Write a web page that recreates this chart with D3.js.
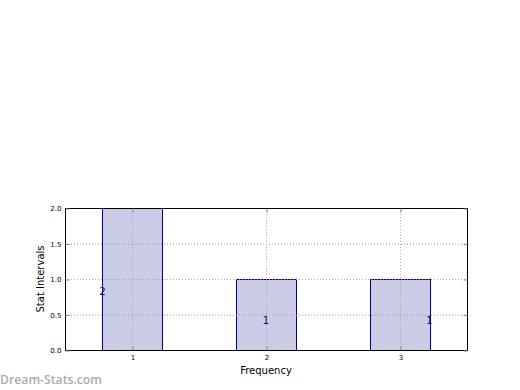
<!DOCTYPE html>
<html><head><meta charset="utf-8">
<script src="https://cdn.jsdelivr.net/npm/d3@7"></script>
<style>body{margin:0;background:#fff;}svg{display:block;font-family:"DejaVu Sans",sans-serif;}</style>
</head><body>
<svg id="c" width="520" height="390"></svg>
<script>
const categories = [1, 2, 3];
const values = [2, 1, 1];
const valueLabels = ["2", "1", "1"];
const labelX = [0.78, 2.0, 3.22];
const labelY = [0.82, 0.42, 0.42];
const yTicks = [0, 0.5, 1.0, 1.5, 2.0];
const xTicks = [1, 2, 3];

const svg = d3.select("#c");
const m = {left: 65, right: 467, top: 208, bottom: 350};
const x = d3.scaleLinear().domain([0.5, 3.5]).range([m.left, m.right]);
const y = d3.scaleLinear().domain([0, 2]).range([m.bottom, m.top]);
const barW = 0.45;

// grid
const g = svg.append("g");
g.selectAll(".hg").data(yTicks).join("line")
  .attr("x1", m.left).attr("x2", m.right)
  .attr("y1", d => y(d) + 0.5).attr("y2", d => y(d) + 0.5)
  .attr("stroke", "#bbb").attr("stroke-dasharray", "1,2");
g.selectAll(".vg").data(xTicks).join("line")
  .attr("x1", d => Math.round(x(d)) + 0.5).attr("x2", d => Math.round(x(d)) + 0.5)
  .attr("y1", m.top).attr("y2", m.bottom)
  .attr("stroke", "#bbb").attr("stroke-dasharray", "1,2");

// bars
svg.selectAll(".bar").data(categories).join("rect")
  .attr("x", (d) => Math.round(x(d - barW / 2)) + 0.5)
  .attr("y", (d, i) => Math.round(y(values[i])) + 0.5)
  .attr("width", d => Math.round(x(d + barW / 2)) - Math.round(x(d - barW / 2)))
  .attr("height", (d, i) => Math.round(y(0)) - Math.round(y(values[i])))
  .attr("fill", "rgba(25,25,140,0.22)").attr("stroke", "#000080").attr("stroke-width", 1);

// grid over bars
const g2 = svg.append("g");
g2.selectAll("line").data(xTicks).join("line")
  .attr("x1", d => Math.round(x(d)) + 0.5).attr("x2", d => Math.round(x(d)) + 0.5)
  .attr("y1", m.top).attr("y2", m.bottom)
  .attr("stroke", "#aaa").attr("stroke-dasharray", "1,2").attr("opacity", 0.7);
g2.selectAll(".h").data(yTicks).join("line")
  .attr("x1", m.left).attr("x2", m.right)
  .attr("y1", d => Math.round(y(d)) + 0.5).attr("y2", d => Math.round(y(d)) + 0.5)
  .attr("stroke", "#aaa").attr("stroke-dasharray", "1,2").attr("opacity", 0.7);

// value labels
svg.selectAll(".vl").data(valueLabels).join("text")
  .attr("x", (d, i) => x(labelX[i])).attr("y", (d, i) => y(labelY[i]))
  .attr("text-anchor", "middle").attr("dominant-baseline", "central")
  .attr("font-size", 10).attr("fill", "#000080").text(d => d);

// frame
svg.append("rect").attr("x", m.left + 0.5).attr("y", m.top + 0.5)
  .attr("width", m.right - m.left).attr("height", m.bottom - m.top)
  .attr("fill", "none").attr("stroke", "#000").attr("stroke-width", 1);

// y axis
const ya = svg.append("g").attr("transform", `translate(${m.left + 0.5},0.5)`)
  .call(d3.axisLeft(y).tickValues(yTicks).tickFormat(d3.format(".1f")).tickSizeInner(-4).tickSizeOuter(0).tickPadding(4));
ya.select(".domain").remove();
ya.selectAll("line").attr("stroke", "#888");
ya.selectAll("text").attr("font-size", 7).attr("fill", "#000").attr("font-family", "DejaVu Sans");
const yr = svg.append("g").attr("transform", `translate(${m.right + 0.5},0.5)`)
  .call(d3.axisRight(y).tickValues(yTicks).tickSizeInner(-4).tickSizeOuter(0).tickFormat(""));
yr.select(".domain").remove();
yr.selectAll("line").attr("stroke", "#888");

// x axis
const xa = svg.append("g").attr("transform", `translate(0.5,${m.bottom + 0.5})`)
  .call(d3.axisBottom(x).tickValues(xTicks).tickFormat(d3.format("d")).tickSizeInner(-4).tickSizeOuter(0).tickPadding(5));
xa.select(".domain").remove();
xa.selectAll("line").attr("stroke", "#888");
xa.selectAll("text").attr("font-size", 7).attr("fill", "#000").attr("font-family", "DejaVu Sans");
const xt = svg.append("g").attr("transform", `translate(0.5,${m.top + 0.5})`)
  .call(d3.axisTop(x).tickValues(xTicks).tickSizeInner(-4).tickSizeOuter(0).tickFormat(""));
xt.select(".domain").remove();
xt.selectAll("line").attr("stroke", "#888");

// axis labels
svg.append("text").attr("x", (m.left + m.right) / 2).attr("y", 374)
  .attr("text-anchor", "middle").attr("font-size", 10).text("Frequency");
svg.append("text").attr("transform", `translate(44,${(m.top + m.bottom) / 2}) rotate(-90)`)
  .attr("text-anchor", "middle").attr("font-size", 10).text("Stat Intervals");

// watermark
svg.append("text").attr("x", 0).attr("y", 384).attr("font-size", 12).attr("font-weight", 600)
  .attr("fill", "#aaaaaa").attr("font-family", "Open Sans").attr("textLength", 102).attr("lengthAdjust", "spacingAndGlyphs").text("Dream-Stats.com");
</script>
</body></html>
